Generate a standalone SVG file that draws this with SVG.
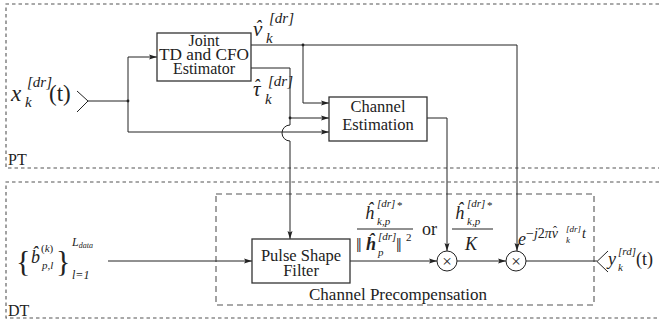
<svg xmlns="http://www.w3.org/2000/svg" width="659" height="327" viewBox="0 0 659 327">
<style>
.t{font-family:"Liberation Serif","DejaVu Serif",serif;fill:#222}
.m{font-family:"Liberation Serif","DejaVu Serif",serif;font-style:italic;fill:#222}
.box{fill:#fff;stroke:#333;stroke-width:1.3}
.w{fill:none;stroke:#222;stroke-width:1}
.wa{fill:none;stroke:#222;stroke-width:1;marker-end:url(#ah)}
.frame{fill:none;stroke:#555;stroke-width:1.1;stroke-dasharray:3.5 3}
.cp{fill:none;stroke:#555;stroke-width:1.1;stroke-dasharray:6 4}
</style>
<defs>
<marker id="ah" viewBox="0 0 8 6" refX="8" refY="3" markerWidth="8" markerHeight="6" markerUnits="userSpaceOnUse" orient="auto">
<path d="M0,0.5 L8,3 L0,5.5 L1.5,3 z" fill="#222"/>
</marker>
</defs>
<rect width="659" height="327" fill="#fff"/>

<g id="frames">
<path class="frame" d="M659 4 H6 V168 H659"/>
<path class="frame" d="M659 182 H6 V318 H659"/>
<rect class="cp" x="216" y="194" width="378" height="111"/>
<text class="t" x="8" y="165" font-size="16">PT</text>
<text class="t" x="8" y="316" font-size="16">DT</text>
<text class="t" x="398" y="300" font-size="17" text-anchor="middle">Channel Precompensation</text>
</g>

<g id="connectors">
<path class="w" d="M77 91 L88 101 L77 112"/>
<path class="w" d="M88 101 H128"/>
<path class="wa" d="M128 101 V57 H157"/>
<path class="wa" d="M128 101 V132 H329"/>
<path class="wa" d="M251 45 H517 V251"/>
<path class="wa" d="M303 45 V103 H329"/>
<path class="wa" d="M251 68 H290 V125 A8 8 0 0 0 290 141 V239"/>
<path class="wa" d="M290 118 H329"/>
<path class="wa" d="M427 118 H447 V251"/>
<path class="wa" d="M108 261 H252"/>
<path class="wa" d="M350 261 H437"/>
<path class="wa" d="M457 261 H506"/>
<path class="w" d="M526 261 H597"/>
<path class="w" d="M608 251 L597 261.5 L608 272"/>
<circle cx="128" cy="101" r="1.4" fill="#222"/>
<circle cx="303" cy="45" r="1.4" fill="#222"/>
<circle cx="290" cy="118" r="1.4" fill="#222"/>
</g>

<g id="joint">
<rect class="box" x="157" y="33" width="94" height="48"/>
<text class="t" x="204" y="46" font-size="16" text-anchor="middle">Joint</text>
<text class="t" x="204" y="60" font-size="16" text-anchor="middle" textLength="90" lengthAdjust="spacingAndGlyphs">TD and CFO</text>
<text class="t" x="204" y="74" font-size="16" text-anchor="middle">Estimator</text>
</g>

<g id="chest">
<rect class="box" x="329" y="97" width="98" height="44"/>
<text class="t" x="378" y="112" font-size="16.5" text-anchor="middle">Channel</text>
<text class="t" x="378" y="130" font-size="16.5" text-anchor="middle">Estimation</text>
</g>

<g id="psf">
<rect class="box" x="252" y="239" width="98" height="44"/>
<text class="t" x="301" y="261" font-size="16.5" text-anchor="middle">Pulse Shape</text>
<text class="t" x="301" y="276" font-size="16.5" text-anchor="middle">Filter</text>
</g>

<g id="mult1">
<circle cx="447" cy="261" r="10" fill="#fff" stroke="#222" stroke-width="1"/>
<text class="t" x="447" y="266.5" font-size="17" text-anchor="middle">×</text>
</g>
<g id="mult2">
<circle cx="516" cy="261" r="10" fill="#fff" stroke="#222" stroke-width="1"/>
<text class="t" x="516" y="266.5" font-size="17" text-anchor="middle">×</text>
</g>

<g id="labels">
<text class="m" x="11" y="101" font-size="23">x</text>
<text class="m" x="27" y="87" font-size="15">[dr]</text>
<text class="m" x="25" y="107" font-size="15">k</text>
<text class="t" x="49" y="101" font-size="23">(t)</text>

<text class="m" x="253" y="36" font-size="21">ν<tspan class="t" font-size="18" dx="-7" dy="-3">ˆ</tspan></text>
<text class="m" x="269" y="23" font-size="15">[dr]</text>
<text class="m" x="266" y="43" font-size="15">k</text>

<text class="m" x="253" y="96" font-size="21">τ<tspan class="t" font-size="18" dx="-7" dy="-4">ˆ</tspan></text>
<text class="m" x="268" y="86" font-size="15">[dr]</text>
<text class="m" x="265" y="104" font-size="15">k</text>

<text class="m" x="365" y="219" font-size="18">ĥ</text>
<text class="m" x="377" y="207" font-size="11">[dr]</text>
<text class="t" x="397" y="209" font-size="11">*</text>
<text class="m" x="377" y="225" font-size="11">k,p</text>
<line x1="357" y1="229" x2="413" y2="229" stroke="#222" stroke-width="1"/>
<text class="t" x="356" y="252" font-size="20">‖</text>
<text class="m" x="366" y="250" font-size="18" font-weight="bold">ĥ</text>
<text class="m" x="378" y="240" font-size="11">[dr]</text>
<text class="m" x="378" y="256" font-size="11">p</text>
<text class="t" x="396" y="252" font-size="20">‖</text>
<text class="t" x="406" y="241" font-size="11">2</text>
<text class="t" x="422" y="235" font-size="18">or</text>
<text class="m" x="455" y="219" font-size="18">ĥ</text>
<text class="m" x="467" y="207" font-size="11">[dr]</text>
<text class="t" x="487" y="209" font-size="11">*</text>
<text class="m" x="467" y="225" font-size="11">k,p</text>
<line x1="452" y1="229" x2="493" y2="229" stroke="#222" stroke-width="1"/>
<text class="m" x="465" y="250" font-size="18">K</text>

<text class="m" x="518" y="245" font-size="18">e</text>
<text class="t" x="526" y="238" font-size="14">−<tspan class="m">j</tspan>2<tspan class="m">πν</tspan><tspan font-size="12" dx="-5" dy="-3">ˆ</tspan></text>
<text class="m" x="566" y="232" font-size="9">[dr]</text>
<text class="m" x="566" y="243" font-size="9">k</text>
<text class="m" x="582" y="238" font-size="14">t</text>

<text class="m" x="608" y="265" font-size="18">y</text>
<text class="m" x="618" y="255" font-size="11">[rd]</text>
<text class="m" x="618" y="271" font-size="11">k</text>
<text class="t" x="636" y="265" font-size="18">(t)</text>

<text class="t" x="16" y="271" font-size="30">{</text>
<text class="m" x="31" y="263" font-size="18">b̂</text>
<text class="t" x="41" y="252" font-size="11">(<tspan class="m">k</tspan>)</text>
<text class="m" x="42" y="269" font-size="11">p,l</text>
<text class="t" x="56" y="271" font-size="30">}</text>
<text class="m" x="72" y="246" font-size="12">L<tspan class="t" font-size="8" dy="2">data</tspan></text>
<text class="m" x="72" y="279" font-size="12">l<tspan class="t">=1</tspan></text>
</g>
</svg>
